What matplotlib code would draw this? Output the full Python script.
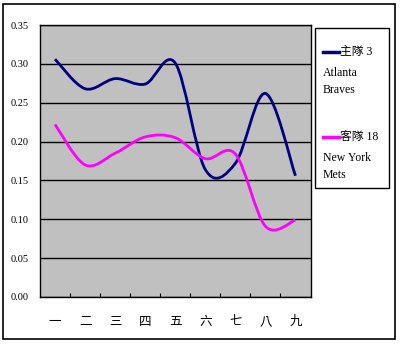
import numpy as np
import matplotlib.pyplot as plt
from matplotlib.path import Path
from matplotlib.patches import PathPatch, Rectangle
from matplotlib.lines import Line2D

plt.rcParams['font.family'] = ['Liberation Serif', 'Noto Sans CJK TC']

# données
innings = ['一', '二', '三', '四', '五', '六', '七', '八', '九']
home = [0.306, 0.268, 0.281, 0.274, 0.301, 0.164, 0.172, 0.262, 0.156]
away = [0.222, 0.170, 0.185, 0.206, 0.205, 0.178, 0.184, 0.091, 0.099]
home_label = ['主隊 3', 'Atlanta', 'Braves']
away_label = ['客隊 18', 'New York', 'Mets']
yticks = [0.00, 0.05, 0.10, 0.15, 0.20, 0.25, 0.30, 0.35]


def smooth_path(xs, ys):
    # courbe lissée façon Excel (Bézier, Catmull-Rom)
    p = np.column_stack([xs, ys]).astype(float)
    n = len(p)
    verts = [p[0]]
    codes = [Path.MOVETO]
    for i in range(n - 1):
        p0 = p[max(i - 1, 0)]
        p1 = p[i]
        p2 = p[i + 1]
        p3 = p[min(i + 2, n - 1)]
        c1 = p1 + (p2 - p0) / 6.0
        c2 = p2 - (p3 - p1) / 6.0
        verts += [c1, c2, p2]
        codes += [Path.CURVE4] * 3
    return Path(verts, codes)


fig = plt.figure(figsize=(4.03, 3.48), dpi=100)
fig.patch.set_facecolor('white')

# cadre extérieur
fig.patches.append(Rectangle((3 / 403, 9 / 348), 392 / 403, 335 / 348,
                             transform=fig.transFigure, fill=False,
                             edgecolor='black', linewidth=1.2))

ax = fig.add_axes([40 / 403, 51 / 348, 270.5 / 403, 272 / 348])
ax.set_facecolor('#C0C0C0')
x = np.arange(len(innings))

colors = ['#000080', '#FF00FF']
for vals, col in zip([home, away], colors):
    ax.add_patch(PathPatch(smooth_path(x, vals), fill=False,
                           edgecolor=col, linewidth=2.0, zorder=3))

ax.set_xlim(-0.5, len(innings) - 0.5)
ax.set_ylim(0, 0.35)
ax.set_yticks(yticks)
ax.set_yticklabels([f'{v:.2f}' for v in yticks], fontsize=7.5)
ax.yaxis.grid(True, color='black', linewidth=1.0)
ax.set_axisbelow(True)
ax.tick_params(axis='y', length=0, pad=8)

ax.set_xticks(x)
ax.set_xticklabels(innings, fontsize=9, family=['Noto Sans CJK TC'])
ax.set_xticks(np.arange(0.5, len(innings) - 1, 1), minor=True)
ax.tick_params(axis='x', which='major', length=0, pad=13)
ax.tick_params(axis='x', which='minor', direction='in', length=3, width=0.8)
for s in ax.spines.values():
    s.set_linewidth(1.0)
    s.set_color('black')

# légende
fig.patches.append(Rectangle((315 / 403, 160 / 348), 74 / 403, 160 / 348,
                             transform=fig.transFigure, fill=False,
                             edgecolor='black', linewidth=1.0))
for lab, col, y0 in zip([home_label, away_label], colors, [52, 137]):
    fig.lines.append(Line2D([323 / 403, 339 / 403], [1 - y0 / 348] * 2,
                            transform=fig.transFigure, color=col, linewidth=2.5))
    fig.text(340 / 403, 1 - y0 / 348, lab[0], fontsize=8.5, va='center')
    for k, t in enumerate(lab[1:]):
        fig.text(323 / 403, 1 - (y0 + 21 + 17 * k) / 348, t, fontsize=8.5,
                 va='center')

fig.savefig('out.png', dpi=100)
